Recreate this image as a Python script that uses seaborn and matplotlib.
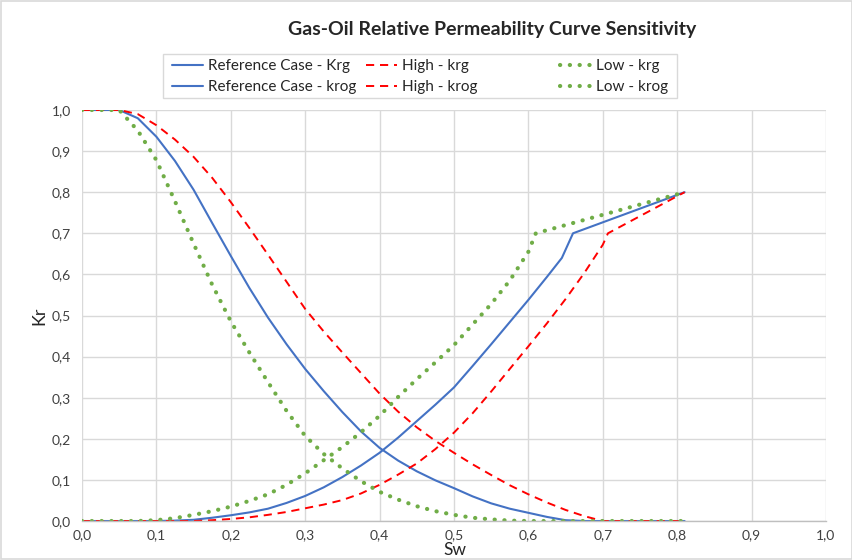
import numpy as np
import pandas as pd
import matplotlib
matplotlib.use("Agg")
import matplotlib.pyplot as plt
from matplotlib.lines import Line2D
from matplotlib.patches import Rectangle
from matplotlib.ticker import FuncFormatter
import seaborn as sns

# ---- Reference case ----
sw_ref_krg = [0.0, 0.05, 0.1, 0.125, 0.15, 0.175, 0.2, 0.225, 0.25, 0.275, 0.3,
              0.325, 0.35, 0.375, 0.4, 0.425, 0.45, 0.475, 0.5, 0.525, 0.55,
              0.575, 0.6, 0.625, 0.645, 0.66, 0.81]
krg_ref = [0.0, 0.0, 0.0, 0.001, 0.003, 0.008, 0.014, 0.021, 0.030, 0.044, 0.061,
           0.082, 0.107, 0.135, 0.166, 0.203, 0.243, 0.283, 0.325, 0.377, 0.430,
           0.484, 0.538, 0.594, 0.640, 0.700, 0.800]

sw_ref_krog = [0.0, 0.025, 0.05, 0.075, 0.1, 0.125, 0.15, 0.175, 0.2, 0.225, 0.25,
               0.275, 0.3, 0.325, 0.35, 0.375, 0.4, 0.425, 0.45, 0.475, 0.5,
               0.525, 0.55, 0.575, 0.6, 0.625, 0.65, 0.675, 0.81]
krog_ref = [1.0, 1.0, 1.0, 0.980, 0.935, 0.876, 0.806, 0.725, 0.645, 0.567, 0.495,
            0.430, 0.370, 0.316, 0.265, 0.218, 0.178, 0.147, 0.121, 0.099, 0.080,
            0.060, 0.043, 0.030, 0.020, 0.010, 0.002, 0.0, 0.0]

# ---- High case ----
sw_high_krg = [0.0, 0.15, 0.175, 0.2, 0.225, 0.25, 0.275, 0.3, 0.325, 0.35, 0.375,
               0.4, 0.425, 0.45, 0.475, 0.5, 0.525, 0.55, 0.575, 0.6, 0.625,
               0.65, 0.675, 0.7, 0.707, 0.81]
krg_high = [0.0, 0.0, 0.002, 0.005, 0.009, 0.015, 0.022, 0.031, 0.040, 0.051, 0.067,
            0.088, 0.113, 0.140, 0.175, 0.215, 0.262, 0.315, 0.370, 0.425, 0.481,
            0.540, 0.603, 0.672, 0.700, 0.800]

sw_high_krog = [0.0, 0.025, 0.05, 0.075, 0.1, 0.125, 0.15, 0.175, 0.2, 0.225, 0.25,
                0.275, 0.3, 0.325, 0.35, 0.375, 0.4, 0.425, 0.45, 0.475, 0.5,
                0.525, 0.55, 0.575, 0.6, 0.625, 0.65, 0.675, 0.7, 0.81]
krog_high = [1.0, 1.0, 1.0, 0.990, 0.963, 0.928, 0.886, 0.835, 0.776, 0.713, 0.648,
             0.582, 0.516, 0.461, 0.410, 0.360, 0.310, 0.266, 0.228, 0.195, 0.166,
             0.138, 0.112, 0.087, 0.065, 0.045, 0.027, 0.012, 0.0, 0.0]

# ---- Low case ----
sw_low_krg = [0.0, 0.075, 0.1, 0.125, 0.15, 0.175, 0.2, 0.225, 0.25, 0.275, 0.3,
              0.325, 0.35, 0.375, 0.4, 0.425, 0.45, 0.475, 0.5, 0.525, 0.55,
              0.575, 0.6, 0.61, 0.81]
krg_low = [0.0, 0.0, 0.002, 0.007, 0.015, 0.024, 0.035, 0.049, 0.065, 0.088, 0.116,
           0.148, 0.180, 0.216, 0.256, 0.302, 0.345, 0.386, 0.428, 0.478, 0.528,
           0.585, 0.655, 0.700, 0.800]

sw_low_krog = [0.0, 0.025, 0.05, 0.075, 0.1, 0.125, 0.15, 0.175, 0.2, 0.225, 0.25,
               0.275, 0.3, 0.325, 0.35, 0.375, 0.4, 0.425, 0.45, 0.475, 0.5,
               0.525, 0.55, 0.575, 0.6, 0.81]
krog_low = [1.0, 1.0, 1.0, 0.950, 0.878, 0.778, 0.675, 0.575, 0.486, 0.410, 0.338,
            0.268, 0.207, 0.163, 0.128, 0.097, 0.071, 0.052, 0.036, 0.024, 0.015,
            0.008, 0.004, 0.001, 0.0, 0.0]

x_ticks = [0.0, 0.1, 0.2, 0.3, 0.4, 0.5, 0.6, 0.7, 0.8, 0.9, 1.0]
y_ticks = [0.0, 0.1, 0.2, 0.3, 0.4, 0.5, 0.6, 0.7, 0.8, 0.9, 1.0]

BLUE = "#4472C4"
RED = "#FF0000"
GREEN = "#70AD47"

series = [
    ("Reference Case - Krg", sw_ref_krg, krg_ref, "ref"),
    ("Reference Case - krog", sw_ref_krog, krog_ref, "ref"),
    ("High - krg", sw_high_krg, krg_high, "high"),
    ("High - krog", sw_high_krog, krog_high, "high"),
    ("Low - krg", sw_low_krg, krg_low, "low"),
    ("Low - krog", sw_low_krog, krog_low, "low"),
]

styles = {
    "ref": dict(color=BLUE, linewidth=1.5, linestyle="-"),
    "high": dict(color=RED, linewidth=1.4, linestyle=(0, (4.2, 3.0))),
    "low": dict(color=GREEN, linewidth=3.0, linestyle=(0, (0.05, 2.3)),
                dash_capstyle="round"),
}

sns.set_theme(style="white")
plt.rcParams["font.family"] = ["Lato", "DejaVu Sans"]

fig = plt.figure(figsize=(8.53, 5.60), dpi=100)
ax = fig.add_axes([0.0961, 0.0696, 0.8722, 0.7340])

for name, sw, kr, case in series:
    df = pd.DataFrame({"Sw": sw, "Kr": kr})
    sns.lineplot(data=df, x="Sw", y="Kr", ax=ax, sort=False, estimator=None,
                 legend=False, **styles[case])

ax.set_xlim(0, 1.0)
ax.set_ylim(0, 1.0)
ax.set_xticks(x_ticks)
ax.set_yticks(y_ticks)
comma = FuncFormatter(lambda v, _: f"{v:.1f}".replace(".", ","))
ax.xaxis.set_major_formatter(comma)
ax.yaxis.set_major_formatter(comma)
ax.tick_params(axis="both", length=0, labelsize=10, colors="#404040", pad=8)
ax.tick_params(axis="x", pad=6)
ax.grid(True, color="#D9D9D9", linewidth=1.0)
ax.set_axisbelow(True)
for side in ("top", "right", "left"):
    ax.spines[side].set_visible(False)
ax.spines["bottom"].set_color("#BFBFBF")
ax.spines["bottom"].set_linewidth(1.0)

ax.set_xlabel("")
ax.set_ylabel("Kr", fontsize=13, color="#262626", labelpad=3)
fig.text(455 / 853, 1 - 550 / 560, "Sw", ha="center", va="center",
         fontsize=12.5, color="#262626")

fig.text(492 / 853, 1 - 29 / 560, "Gas-Oil Relative Permeability Curve Sensitivity",
         ha="center", va="center", fontsize=14, fontweight="bold", color="#262626")

# Legend frame and three columns of entries
fig.patches.append(Rectangle((163 / 853, 1 - 98 / 560), (677 - 163) / 853, 44 / 560,
                             transform=fig.transFigure, fill=False,
                             edgecolor="#D9D9D9", linewidth=1.0))
col_x = [172 / 853, 366 / 853, 560 / 853]
cases = ["ref", "high", "low"]
for i, case in enumerate(cases):
    handles = [Line2D([], [], **styles[case]), Line2D([], [], **styles[case])]
    labels = [series[2 * i][0], series[2 * i + 1][0]]
    fig.legend(handles, labels, loc="upper left",
               bbox_to_anchor=(col_x[i], 1 - 59 / 560), frameon=False,
               fontsize=11, handlelength=2.0, handletextpad=0.35,
               labelspacing=0.45, borderaxespad=0.0, borderpad=0.0,
               labelcolor="#262626")

# Chart border
fig.patches.append(Rectangle((0.001, 0.001), 0.998, 0.998, transform=fig.transFigure,
                             fill=False, edgecolor="#D9D9D9", linewidth=1.2))

fig.savefig("out.png", dpi=100, facecolor="white")
